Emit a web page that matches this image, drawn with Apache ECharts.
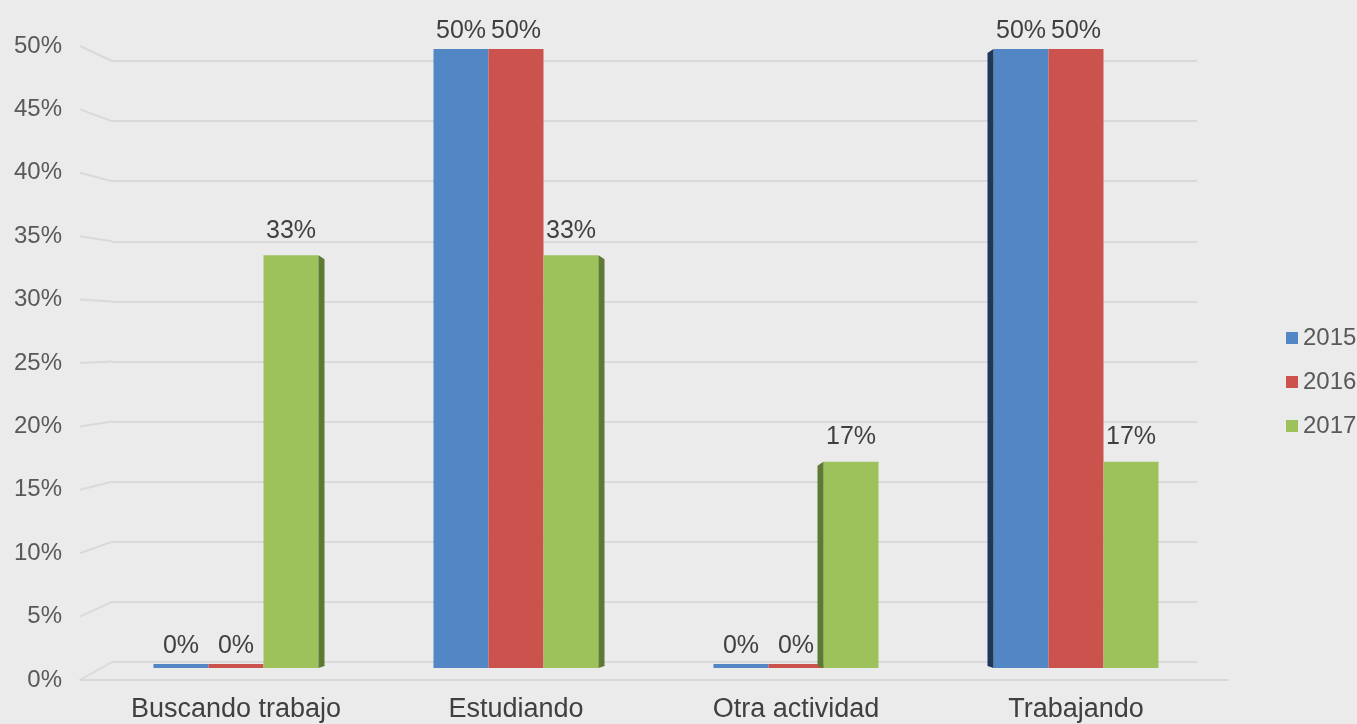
<!DOCTYPE html>
<html>
<head>
<meta charset="utf-8">
<script src="https://cdn.jsdelivr.net/npm/echarts@6/dist/echarts.min.js"></script>
<style>
html,body{margin:0;padding:0;background:#ebebeb;}
#c{width:1357px;height:724px;}
</style>
</head>
<body>
<div id="c"></div>
<script>
const categories = ['Buscando trabajo', 'Estudiando', 'Otra actividad', 'Trabajando'];
const years = ['2015', '2016', '2017'];
const values2015 = [0, 50, 0, 50];
const values2016 = [0, 50, 0, 50];
const values2017 = [33.33, 33.33, 16.67, 16.67];
const yTicks = [0, 5, 10, 15, 20, 25, 30, 35, 40, 45, 50];

const colors = ['#5286C5', '#CC524E', '#9DC25C'];
const sideColors = ['#1f3858', '#7d2c2a', '#5e7a32'];
const FONT = '"Liberation Sans", Arial, sans-serif';
const BAR_W = 55;
const chart = echarts.init(document.getElementById('c'));
const allValues = [values2015, values2016, values2017];

function barSeries(name, data, color, dist) {
  return {
    name: name, type: 'bar', xAxisIndex: 2, yAxisIndex: 2,
    data: data, barWidth: BAR_W, barGap: '0%', barMinHeight: 4,
    itemStyle: { color: color },
    label: {
      show: true, position: 'top', distance: dist,
      formatter: p => Math.round(p.value) + '%',
      fontSize: 25, color: '#404040', fontFamily: FONT
    }
  };
}

// side faces (3D look) — positions come from the axis scale
const sideData = [];
categories.forEach((c, ci) => {
  allValues.forEach((vals, si) => {
    if (vals[ci] > 0) sideData.push([ci, si, vals[ci]]);
  });
});

chart.setOption({
  backgroundColor: '#ebebeb',
  animation: false,
  textStyle: { fontFamily: FONT },
  legend: {
    orient: 'vertical', left: 1281, top: 321,
    itemWidth: 12, itemHeight: 12, itemGap: 20,
    icon: 'rect',
    data: years,
    textStyle: { fontSize: 24, color: '#595959', fontFamily: FONT }
  },
  grid: [
    { left: 80, top: 46, width: 1148, height: 634 },
    { left: 112, top: 61, width: 1085, height: 601 },
    { left: 96, top: 49, width: 1120, height: 619 }
  ],
  xAxis: [
    { gridIndex: 0, type: 'category', data: categories,
      axisLine: { show: true, lineStyle: { color: '#d9d9d9', width: 2 } },
      axisTick: { show: false }, axisLabel: { show: false } },
    { gridIndex: 1, type: 'category', data: categories, show: false },
    { gridIndex: 2, type: 'category', data: categories,
      axisLine: { show: false }, axisTick: { show: false },
      axisLabel: { fontSize: 27, color: '#404040', margin: 28, fontFamily: FONT } }
  ],
  yAxis: [
    { gridIndex: 0, type: 'value', min: 0, max: 50, interval: 5,
      axisLine: { show: false }, axisTick: { show: false }, splitLine: { show: false },
      axisLabel: { formatter: '{value}%', fontSize: 24, color: '#595959', margin: 18, fontFamily: FONT } },
    { gridIndex: 1, type: 'value', min: 0, max: 50, interval: 5,
      axisLine: { show: false }, axisTick: { show: false }, axisLabel: { show: false },
      splitLine: { show: true, lineStyle: { color: '#d9d9d9', width: 2 } } },
    { gridIndex: 2, type: 'value', min: 0, max: 50, interval: 5, show: false,
      splitLine: { show: false } }
  ],
  series: [
    barSeries(years[0], values2015, colors[0], 5),
    barSeries(years[1], values2016, colors[1], 5),
    barSeries(years[2], values2017, colors[2], 12),
    {
      name: 'sides', type: 'custom', xAxisIndex: 2, yAxisIndex: 2,
      data: sideData, silent: true, z: 3,
      renderItem: function (params, api) {
        const ci = api.value(0), si = api.value(1), v = api.value(2);
        const top = api.coord([ci, v]);
        const base = api.coord([ci, 0]);
        const cx = top[0] + (si - 1) * BAR_W;
        const xl = cx - BAR_W / 2, xr = cx + BAR_W / 2;
        const vanishX = 680;
        const d = 6;
        const children = [];
        if (xr < vanishX) {
          const next = si < 2 ? allValues[si + 1][ci] : 0;
          if (next === 0) {
            children.push({ type: 'polygon', shape: { points: [
              [xr, top[1]], [xr + d, top[1] + 4], [xr + d, base[1] - 2], [xr, base[1]]
            ] }, style: { fill: sideColors[si] } });
          }
        } else {
          const prev = si > 0 ? allValues[si - 1][ci] : 0;
          if (prev === 0) {
            children.push({ type: 'polygon', shape: { points: [
              [xl, top[1]], [xl - d, top[1] + 4], [xl - d, base[1] - 2], [xl, base[1]]
            ] }, style: { fill: sideColors[si] } });
          }
        }
        return { type: 'group', children: children };
      }
    }
  ]
});

// slanted perspective connectors from the label plane to the back wall gridlines
const gridRect = chart.getModel().getComponent('grid', 0).coordinateSystem.getRect();
const backRect = chart.getModel().getComponent('grid', 1).coordinateSystem.getRect();
const graphics = yTicks.map(v => {
  const y0 = chart.convertToPixel({ yAxisIndex: 0 }, v);
  const y1 = chart.convertToPixel({ yAxisIndex: 1 }, v);
  return {
    type: 'line', silent: true, z: 0,
    shape: { x1: gridRect.x, y1: y0, x2: backRect.x, y2: y1 },
    style: { stroke: '#d9d9d9', lineWidth: 2 }
  };
});
chart.setOption({ graphic: graphics });
</script>
</body>
</html>
